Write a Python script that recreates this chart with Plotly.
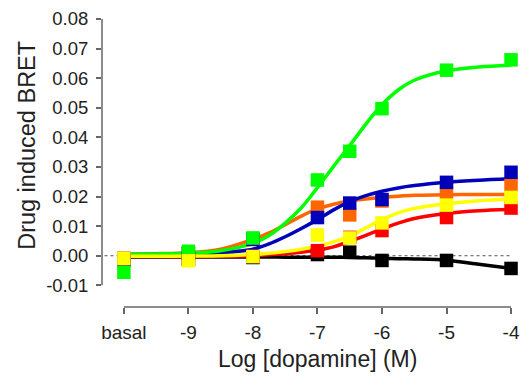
import plotly.graph_objects as go

# ---- data ----
dose_x = [-10, -9, -8, -7, -6.5, -6, -5, -4]          # -10 = basal
x_tickvals = [-10, -9, -8, -7, -6, -5, -4]
x_ticktext = ["basal", "-9", "-8", "-7", "-6", "-5", "-4"]
y_tickvals = [0.08, 0.07, 0.06, 0.05, 0.04, 0.03, 0.02, 0.01, 0.0, -0.01]
y_ticktext = ["0.08", "0.07", "0.06", "0.05", "0.04", "0.03", "0.02", "0.01", "0.00", "-0.01"]

black_pts  = [-0.0015, -0.0012, -0.0006, 0.0004, 0.0012, -0.0016, -0.0016, -0.0043]
red_pts    = [-0.0012, -0.0010, -0.0002, 0.0017, 0.0062, 0.0085, 0.0129, 0.0161]
orange_pts = [-0.0008, 0.0008, 0.0058, 0.0164, 0.0138, 0.0185, 0.0214, 0.0240]
blue_pts   = [-0.0010, 0.0008, 0.0055, 0.0129, 0.0178, 0.0190, 0.0248, 0.0282]
green_pts  = [-0.0056, 0.0015, 0.0060, 0.0256, 0.0353, 0.0497, 0.0627, 0.0662]
yellow_pts = [-0.0009, -0.0017, -0.0003, 0.0070, 0.0060, 0.0111, 0.0171, 0.0197]

# fitted curves
curve_x = [-10, -9.5, -9, -8.5, -8, -7.75, -7.5, -7.25, -7, -6.75, -6.5, -6.25,
           -6, -5.75, -5.5, -5, -4.5, -4]
black_curve  = [-0.0004, -0.0004, -0.0004, -0.0004, -0.0004, -0.0004, -0.0005, -0.0005,
                -0.0005, -0.0005, -0.0006, -0.0007, -0.0009, -0.0010, -0.0011, -0.0015,
                -0.0029, -0.0043]
red_curve    = [-0.0003, -0.0003, -0.0003, -0.0002, 0.0000, 0.0003, 0.0007, 0.0012,
                0.0019, 0.0030, 0.0048, 0.0069, 0.0090, 0.0110, 0.0126, 0.0143,
                0.0152, 0.0156]
orange_curve = [0.0006, 0.0007, 0.0010, 0.0022, 0.0055, 0.0077, 0.0105, 0.0134,
                0.0158, 0.0174, 0.0185, 0.0192, 0.0197, 0.0201, 0.0204, 0.0206,
                0.0207, 0.0207]
blue_curve   = [0.0003, 0.0004, 0.0005, 0.0010, 0.0022, 0.0040, 0.0064, 0.0092,
                0.0122, 0.0155, 0.0183, 0.0203, 0.0218, 0.0229, 0.0237, 0.0248,
                0.0255, 0.0260]
green_curve  = [0.0005, 0.0006, 0.0008, 0.0017, 0.0042, 0.0068, 0.0110, 0.0162,
                0.0230, 0.0302, 0.0372, 0.0445, 0.0510, 0.0560, 0.0593, 0.0625,
                0.0638, 0.0644]
yellow_curve = [-0.0002, -0.0002, -0.0001, 0.0000, 0.0004, 0.0008, 0.0014, 0.0022,
                0.0033, 0.0047, 0.0066, 0.0094, 0.0122, 0.0145, 0.0160, 0.0176,
                0.0186, 0.0192]

series = [
    ("black", "#000000", black_pts, black_curve),
    ("red", "#FF0000", red_pts, red_curve),
    ("orange", "#FF6600", orange_pts, orange_curve),
    ("blue", "#0000BB", blue_pts, blue_curve),
    ("green", "#00FF00", green_pts, green_curve),
    ("yellow", "#FFFF00", yellow_pts, yellow_curve),
]

fig = go.Figure()
for name, col, pts, crv in series:
    fig.add_trace(go.Scatter(x=curve_x, y=crv, mode="lines",
                             line=dict(color=col, width=3.5, shape="spline", smoothing=0.8),
                             showlegend=False, hoverinfo="skip"))
for name, col, pts, crv in series:
    fig.add_trace(go.Scatter(x=dose_x, y=pts, mode="markers",
                             marker=dict(symbol="square", size=13.5, color=col, line=dict(width=0)),
                             showlegend=False, name=name))

axis_col = "#666666"
font_fam = "Liberation Sans, Arial, sans-serif"

# dotted zero line
fig.add_shape(type="line", xref="x", yref="y", x0=-10.3, x1=-4, y0=0, y1=0,
              line=dict(color="#555555", width=1, dash="dot"), layer="below")
# y axis line
fig.add_shape(type="line", xref="paper", yref="y", x0=0, x1=0, y0=-0.01, y1=0.08,
              line=dict(color=axis_col, width=1.5))
# x axis line
fig.add_shape(type="line", xref="x", yref="paper", x0=-10, x1=-4, y0=0, y1=0,
              line=dict(color=axis_col, width=1.5))

fig.update_layout(
    width=528, height=380,
    margin=dict(l=102, r=8, t=15, b=73),
    plot_bgcolor="white", paper_bgcolor="white",
    font=dict(family=font_fam, color="#222222"),
    xaxis=dict(range=[-10.339, -3.892], tickvals=x_tickvals, ticktext=x_ticktext,
               showgrid=False, zeroline=False, showline=False,
               ticks="outside", ticklen=6, tickwidth=1.5, tickcolor=axis_col,
               ticklabelstandoff=2,
               tickfont=dict(size=19, family=font_fam, color="#222222")),
    yaxis=dict(range=[-0.01733, 0.08], tickvals=y_tickvals, ticktext=y_ticktext,
               showgrid=False, zeroline=False, showline=False,
               ticks="outside", ticklen=5, tickwidth=1.5, tickcolor=axis_col,
               ticklabelstandoff=4,
               tickfont=dict(size=18.5, family=font_fam, color="#222222")),
    annotations=[
        dict(text="Log [dopamine] (M)", xref="paper", yref="paper", x=0.518, y=-0.18,
             xanchor="center", yanchor="middle", showarrow=False,
             font=dict(size=23, family=font_fam, color="#222222")),
        dict(text="Drug induced BRET", xref="paper", yref="paper", x=-0.18, y=0.56,
             xanchor="center", yanchor="middle", textangle=-90, showarrow=False,
             font=dict(size=23.5, family=font_fam, color="#222222")),
    ],
)

fig.write_html("out.html")
